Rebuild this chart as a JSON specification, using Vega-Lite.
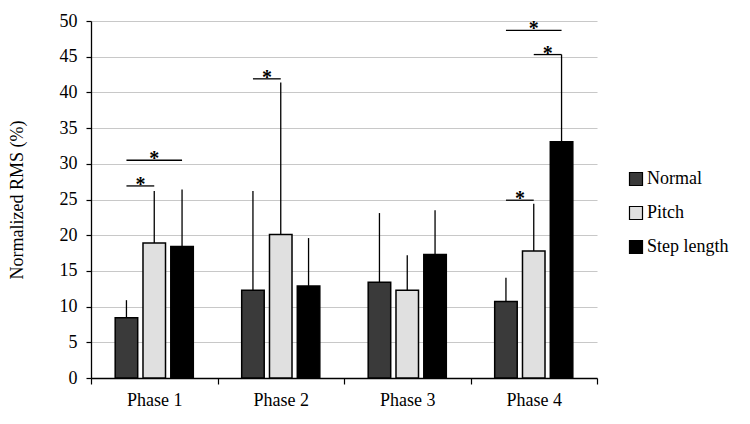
{
  "$schema": "https://vega.github.io/schema/vega-lite/v6.json",
  "width": 506,
  "height": 357,
  "autosize": {"type": "none"},
  "padding": {"left": 91, "top": 21, "right": 153, "bottom": 46},
  "background": "white",
  "config": {
    "font": "Liberation Serif",
    "view": {"stroke": null},
    "axisX": {"grid": false, "labelAngle": 0, "ticks": true, "tickBand": "extent", "tickSize": 6, "tickWidth": 1.2, "tickColor": "black", "domain": true, "domainColor": "black", "domainWidth": 1.3, "labelPadding": 7, "labelFontSize": 18, "labelColor": "black", "labelFont": "Liberation Serif"},
    "axisY": {"grid": true, "gridColor": "#c8c8c8", "gridWidth": 1.2, "tickCount": 10, "ticks": true, "tickSize": 5, "tickWidth": 1.2, "tickColor": "black", "domain": true, "domainColor": "black", "domainWidth": 1.3, "labelPadding": 9, "labelFontSize": 18, "labelColor": "black", "labelFont": "Liberation Serif", "titleFontSize": 18, "titleFontWeight": "normal", "titleColor": "black", "titleFont": "Liberation Serif", "titlePadding": 33}
  },
  "datasets": {
    "bars": [
      {"phase": "Phase 1", "group": "Normal", "mean": 8.45, "upper": 10.9},
      {"phase": "Phase 1", "group": "Pitch", "mean": 18.9, "upper": 26.2},
      {"phase": "Phase 1", "group": "Step length", "mean": 18.4, "upper": 26.4},
      {"phase": "Phase 2", "group": "Normal", "mean": 12.3, "upper": 26.2},
      {"phase": "Phase 2", "group": "Pitch", "mean": 20.1, "upper": 41.4},
      {"phase": "Phase 2", "group": "Step length", "mean": 12.9, "upper": 19.6},
      {"phase": "Phase 3", "group": "Normal", "mean": 13.4, "upper": 23.1},
      {"phase": "Phase 3", "group": "Pitch", "mean": 12.3, "upper": 17.2},
      {"phase": "Phase 3", "group": "Step length", "mean": 17.3, "upper": 23.5},
      {"phase": "Phase 4", "group": "Normal", "mean": 10.7, "upper": 14.05},
      {"phase": "Phase 4", "group": "Pitch", "mean": 17.8, "upper": 24.4},
      {"phase": "Phase 4", "group": "Step length", "mean": 33.1, "upper": 45.3}
    ],
    "brackets": [
      {"bracket": "B1", "phase": "Phase 1", "group": "Normal", "level": 26.9},
      {"bracket": "B1", "phase": "Phase 1", "group": "Pitch", "level": 26.9},
      {"bracket": "B2", "phase": "Phase 1", "group": "Normal", "level": 30.5},
      {"bracket": "B2", "phase": "Phase 1", "group": "Step length", "level": 30.5},
      {"bracket": "B3", "phase": "Phase 2", "group": "Normal", "level": 41.9},
      {"bracket": "B3", "phase": "Phase 2", "group": "Pitch", "level": 41.9},
      {"bracket": "B4", "phase": "Phase 4", "group": "Normal", "level": 24.9},
      {"bracket": "B4", "phase": "Phase 4", "group": "Pitch", "level": 24.9},
      {"bracket": "B5", "phase": "Phase 4", "group": "Pitch", "level": 45.3},
      {"bracket": "B5", "phase": "Phase 4", "group": "Step length", "level": 45.3},
      {"bracket": "B6", "phase": "Phase 4", "group": "Normal", "level": 48.7},
      {"bracket": "B6", "phase": "Phase 4", "group": "Step length", "level": 48.7}
    ],
    "stars": [
      {"phase": "Phase 1", "group": "Normal", "level": 26.9, "span": "adjacent", "label": "*"},
      {"phase": "Phase 2", "group": "Normal", "level": 41.9, "span": "adjacent", "label": "*"},
      {"phase": "Phase 4", "group": "Normal", "level": 24.9, "span": "adjacent", "label": "*"},
      {"phase": "Phase 4", "group": "Pitch", "level": 45.3, "span": "adjacent", "label": "*"},
      {"phase": "Phase 1", "group": "Pitch", "level": 30.5, "span": "wide", "label": "*"},
      {"phase": "Phase 4", "group": "Pitch", "level": 48.7, "span": "wide", "label": "*"}
    ]
  },
  "layer": [
    {
      "data": {"name": "bars"},
      "mark": {"type": "bar", "stroke": "black", "strokeWidth": 1.5},
      "encoding": {
        "x": {
          "field": "phase", "type": "nominal", "title": null,
          "scale": {"domain": ["Phase 1", "Phase 2", "Phase 3", "Phase 4"], "paddingInner": 0, "paddingOuter": 0}
        },
        "xOffset": {
          "field": "group", "type": "nominal",
          "scale": {"domain": ["Normal", "Pitch", "Step length"], "paddingInner": 0.19, "paddingOuter": 0.87}
        },
        "y": {
          "field": "mean", "type": "quantitative",
          "scale": {"domain": [0, 50], "nice": false},
          "axis": {"title": "Normalized RMS (%)"}
        },
        "color": {
          "field": "group", "type": "nominal",
          "scale": {"domain": ["Normal", "Pitch", "Step length"], "range": ["#3a3a3a", "#e0e0e0", "#000000"]},
          "legend": {"title": null, "orient": "none", "legendX": 536, "legendY": 149, "padding": 0, "symbolType": "square", "symbolSize": 169, "symbolStrokeColor": "black", "symbolStrokeWidth": 1.2, "symbolOpacity": 1, "labelFontSize": 18, "labelColor": "black", "labelOffset": 2, "rowPadding": 16}
        }
      }
    },
    {
      "data": {"name": "bars"},
      "mark": {"type": "rule", "color": "black", "strokeWidth": 1.3},
      "encoding": {
        "x": {"field": "phase", "type": "nominal", "title": null},
        "xOffset": {"field": "group", "type": "nominal"},
        "y": {"field": "mean", "type": "quantitative"},
        "y2": {"field": "upper"}
      }
    },
    {
      "data": {"name": "brackets"},
      "mark": {"type": "line", "color": "black", "strokeWidth": 1.3},
      "encoding": {
        "x": {"field": "phase", "type": "nominal", "title": null},
        "xOffset": {"field": "group", "type": "nominal"},
        "y": {"field": "level", "type": "quantitative"},
        "detail": {"field": "bracket"}
      }
    },
    {
      "data": {"name": "stars"},
      "transform": [{"filter": "datum.span === 'adjacent'"}],
      "mark": {"type": "text", "fontSize": 20, "fontWeight": "bold", "color": "black", "baseline": "alphabetic", "dx": 14, "dy": 5},
      "encoding": {
        "x": {"field": "phase", "type": "nominal", "title": null},
        "xOffset": {"field": "group", "type": "nominal"},
        "y": {"field": "level", "type": "quantitative"},
        "text": {"field": "label"}
      }
    },
    {
      "data": {"name": "stars"},
      "transform": [{"filter": "datum.span === 'wide'"}],
      "mark": {"type": "text", "fontSize": 20, "fontWeight": "bold", "color": "black", "baseline": "alphabetic", "dy": 5},
      "encoding": {
        "x": {"field": "phase", "type": "nominal", "title": null},
        "xOffset": {"field": "group", "type": "nominal"},
        "y": {"field": "level", "type": "quantitative"},
        "text": {"field": "label"}
      }
    }
  ]
}
